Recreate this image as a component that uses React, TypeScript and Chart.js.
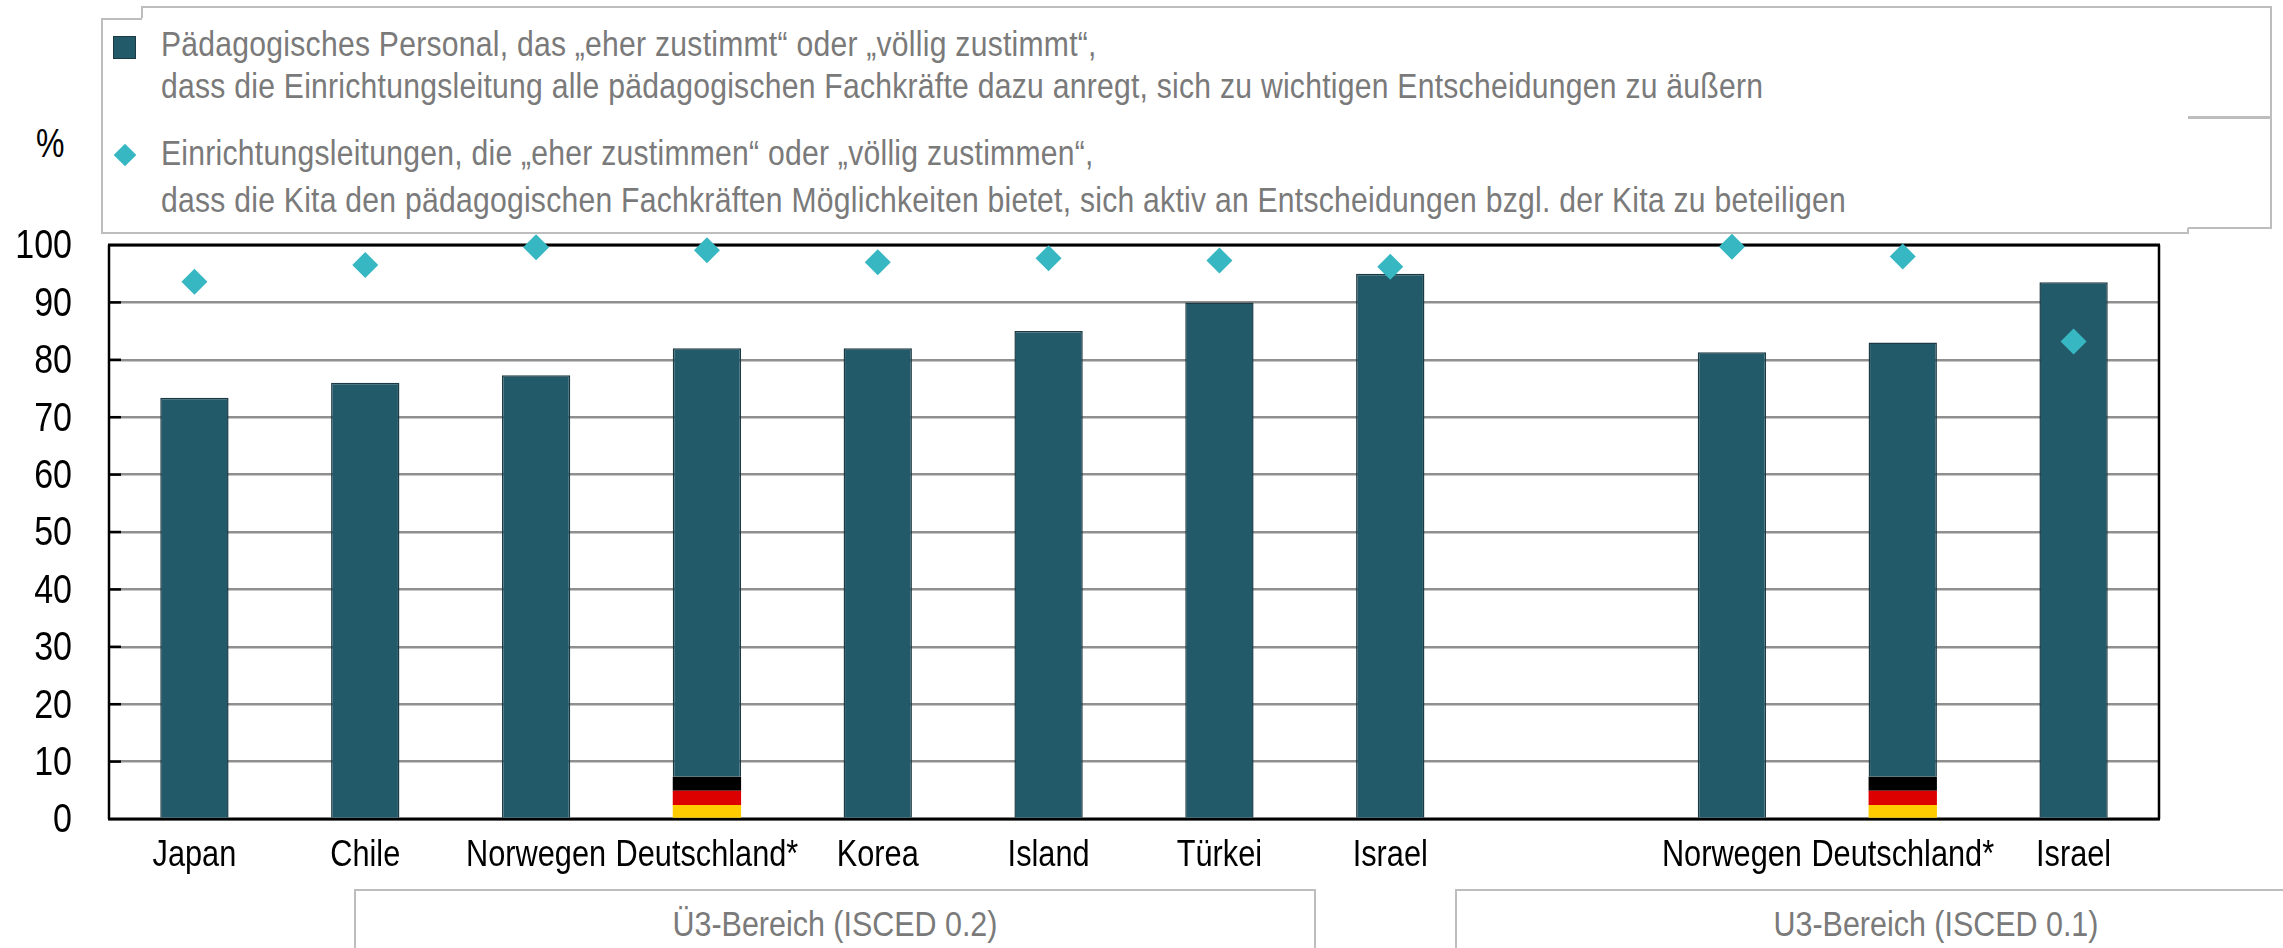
import React, { useEffect, useRef } from "react";
import { Chart, registerables } from "chart.js";

Chart.register(...registerables);

const categories = ["Japan", "Chile", "Norwegen", "Deutschland*", "Korea", "Island", "Türkei", "Israel", "", "Norwegen", "Deutschland*", "Israel"];
const staffValues = [73.4, 76, 77.3, 82, 82, 85, 90, 95, null, 81.3, 83, 93.5];
const leaderValues = [93.6, 96.5, 99.6, 99.1, 97, 97.7, 97.3, 96.2, null, 99.7, 98, 83.2];
const flagGold = [null, null, null, 2.45, null, null, null, null, null, null, 2.45, null];
const flagRed = [null, null, null, 2.45, null, null, null, null, null, null, 2.45, null];
const flagBlack = [null, null, null, 2.45, null, null, null, null, null, null, 2.45, null];
const yTicks = [0, 10, 20, 30, 40, 50, 60, 70, 80, 90, 100];

const legendStaff = ["Pädagogisches Personal, das „eher zustimmt“ oder „völlig zustimmt“,", "dass die Einrichtungsleitung alle pädagogischen Fachkräfte dazu anregt, sich zu wichtigen Entscheidungen zu äußern"];
const legendLeader = ["Einrichtungsleitungen, die „eher zustimmen“ oder „völlig zustimmen“,", "dass die Kita den pädagogischen Fachkräften Möglichkeiten bietet, sich aktiv an Entscheidungen bzgl. der Kita zu beteiligen"];
const groupA = "Ü3-Bereich (ISCED 0.2)";
const groupB = "U3-Bereich (ISCED 0.1)";
const unitLabel = "%";

const FONT = '"Liberation Sans", Arial, sans-serif';
const TEAL = "#235a69";
const DIAMOND = "#36b7c2";
const GREY = "#bdbdbd";
const TEXTGREY = "#7a7a7a";
const CONDENSE = 0.83;

// The reference's type is horizontally condensed: fillText's maxWidth argument does the same.
const condensePlugin = {
  id: "condense",
  beforeInit(chart: any) {
    const ctx = chart.ctx;
    const orig = ctx.fillText.bind(ctx);
    ctx.fillText = (t: string, x: number, y: number) =>
      orig(t, x, y + (ctx.textAlign === "right" ? 2 : 0), ctx.measureText(t).width * CONDENSE);
  },
};

const framePlugin = {
  id: "frame",
  beforeDatasetsDraw(chart: any) {
    const { ctx, chartArea: a, scales } = chart;
    ctx.save();
    ctx.strokeStyle = "#000";
    ctx.lineWidth = 2.5;
    for (const t of yTicks) {
      if (t === 0 || t === 100) continue;
      const y = scales.y.getPixelForValue(t);
      ctx.beginPath();
      ctx.moveTo(a.left, y);
      ctx.lineTo(a.left + 12, y);
      ctx.stroke();
    }
    ctx.beginPath();
    ctx.moveTo(a.left, a.top);
    ctx.lineTo(a.left, a.bottom);
    ctx.moveTo(a.right, a.top);
    ctx.lineTo(a.right, a.bottom);
    ctx.stroke();
    ctx.lineWidth = 3;
    ctx.beginPath();
    ctx.moveTo(a.left - 1, a.top);
    ctx.lineTo(a.right + 1, a.top);
    ctx.moveTo(a.left - 1, a.bottom);
    ctx.lineTo(a.right + 1, a.bottom);
    ctx.stroke();
    ctx.restore();
  },
};

function line(text: string, left: number, top: number) {
  return (
    <div
      key={text}
      style={{
        position: "absolute",
        left,
        top,
        whiteSpace: "nowrap",
        font: `35px ${FONT}`,
        lineHeight: "40px",
        color: TEXTGREY,
        letterSpacing: 0.3,
        transform: "scaleX(0.86)",
        transformOrigin: "left center",
      }}
    >
      {text}
    </div>
  );
}

function box(left: number, top: number, width: number, height: number, extra: any = {}) {
  return <div style={{ position: "absolute", left, top, width, height, boxSizing: "border-box", ...extra }} />;
}

function groupLabel(text: string, left: number) {
  return (
    <div
      style={{
        position: "absolute",
        left,
        width: 962,
        top: 904,
        textAlign: "center",
        font: `35px ${FONT}`,
        lineHeight: "40px",
        color: TEXTGREY,
        transform: "scaleX(0.87)",
      }}
    >
      {text}
    </div>
  );
}

export default function App() {
  const ref = useRef<HTMLCanvasElement>(null);

  useEffect(() => {
    const staffRest = staffValues.map((v, i) =>
      v === null ? null : v - ((flagGold[i] ?? 0) + (flagRed[i] ?? 0) + (flagBlack[i] ?? 0))
    );
    const barCommon = { barPercentage: 0.4, categoryPercentage: 1, order: 2, borderWidth: 0 };
    const chart = new Chart(ref.current!, {
      type: "bar",
      data: {
        labels: categories,
        datasets: [
          { label: "Gold", data: flagGold, backgroundColor: "#ffcc00", ...barCommon },
          { label: "Rot", data: flagRed, backgroundColor: "#dd0000", ...barCommon },
          { label: "Schwarz", data: flagBlack, backgroundColor: "#000000", ...barCommon },
          {
            label: "Pädagogisches Personal",
            data: staffRest,
            backgroundColor: TEAL,
            ...barCommon,
            borderColor: "#1c3a44",
            borderWidth: 1.5,
          },
          {
            type: "line",
            label: "Einrichtungsleitungen",
            data: leaderValues,
            showLine: false,
            pointStyle: "rectRot",
            pointRadius: 13,
            pointBackgroundColor: DIAMOND,
            pointBorderWidth: 0,
            clip: false,
            order: 1,
          },
        ] as any,
      },
      options: {
        animation: false,
        responsive: false,
        layout: { padding: { left: 0, top: 245, right: 124, bottom: 0 } },
        plugins: { legend: { display: false }, tooltip: { enabled: false } },
        scales: {
          x: {
            stacked: true,
            grid: { display: false, drawTicks: false },
            border: { display: false },
            ticks: {
              autoSkip: false,
              maxRotation: 0,
              minRotation: 0,
              color: "#000",
              padding: 15,
              font: { family: FONT, size: 37 },
            },
            afterFit(s: any) {
              s.height = 129;
            },
          },
          y: {
            stacked: true,
            min: 0,
            max: 100,
            afterBuildTicks(s: any) {
              s.ticks = yTicks.map((value) => ({ value }));
            },
            grid: { color: "#8f8f8f", lineWidth: 2.5, drawTicks: false },
            border: { display: false },
            ticks: {
              color: "#000",
              padding: 37,
              font: { family: FONT, size: 41 },
            },
            afterFit(s: any) {
              s.width = 109;
            },
          },
        },
      } as any,
      plugins: [condensePlugin, framePlugin],
    });
    return () => chart.destroy();
  }, []);

  return (
    <div style={{ position: "absolute", left: 0, top: 0, width: 2283, height: 948, overflow: "hidden", background: "#fff" }}>
      {box(141, 6, 2131, 112, { border: `2px solid ${GREY}` })}
      {box(141, 117, 2131, 112, { border: `2px solid ${GREY}` })}
      {box(101, 18, 2087, 216, { background: "#fff", borderLeft: `2px solid ${GREY}`, borderBottom: `2px solid ${GREY}` })}
      {box(101, 18, 41, 2, { background: GREY })}
      {box(2187, 228, 2, 6, { background: GREY })}
      {box(113, 36, 23, 23, { background: TEAL, border: "1.5px solid #1c3a44" })}
      {box(117, 147, 16, 16, { background: DIAMOND, transform: "rotate(45deg)" })}
      {line(legendStaff[0], 161, 24)}
      {line(legendStaff[1], 161, 66)}
      {line(legendLeader[0], 161, 133)}
      {line(legendLeader[1], 161, 180)}
      <div style={{ position: "absolute", left: 36, top: 123, font: `40px ${FONT}`, lineHeight: "40px", color: "#000", transform: "scaleX(0.8)", transformOrigin: "left center" }}>{unitLabel}</div>
      {box(354, 889, 962, 80, { border: `2px solid ${GREY}` })}
      {box(1455, 889, 962, 80, { border: `2px solid ${GREY}` })}
      {groupLabel(groupA, 354)}
      {groupLabel(groupB, 1455)}
      <canvas ref={ref} width={2283} height={948} style={{ position: "absolute", left: 0, top: 0, display: "block" }} />
    </div>
  );
}
